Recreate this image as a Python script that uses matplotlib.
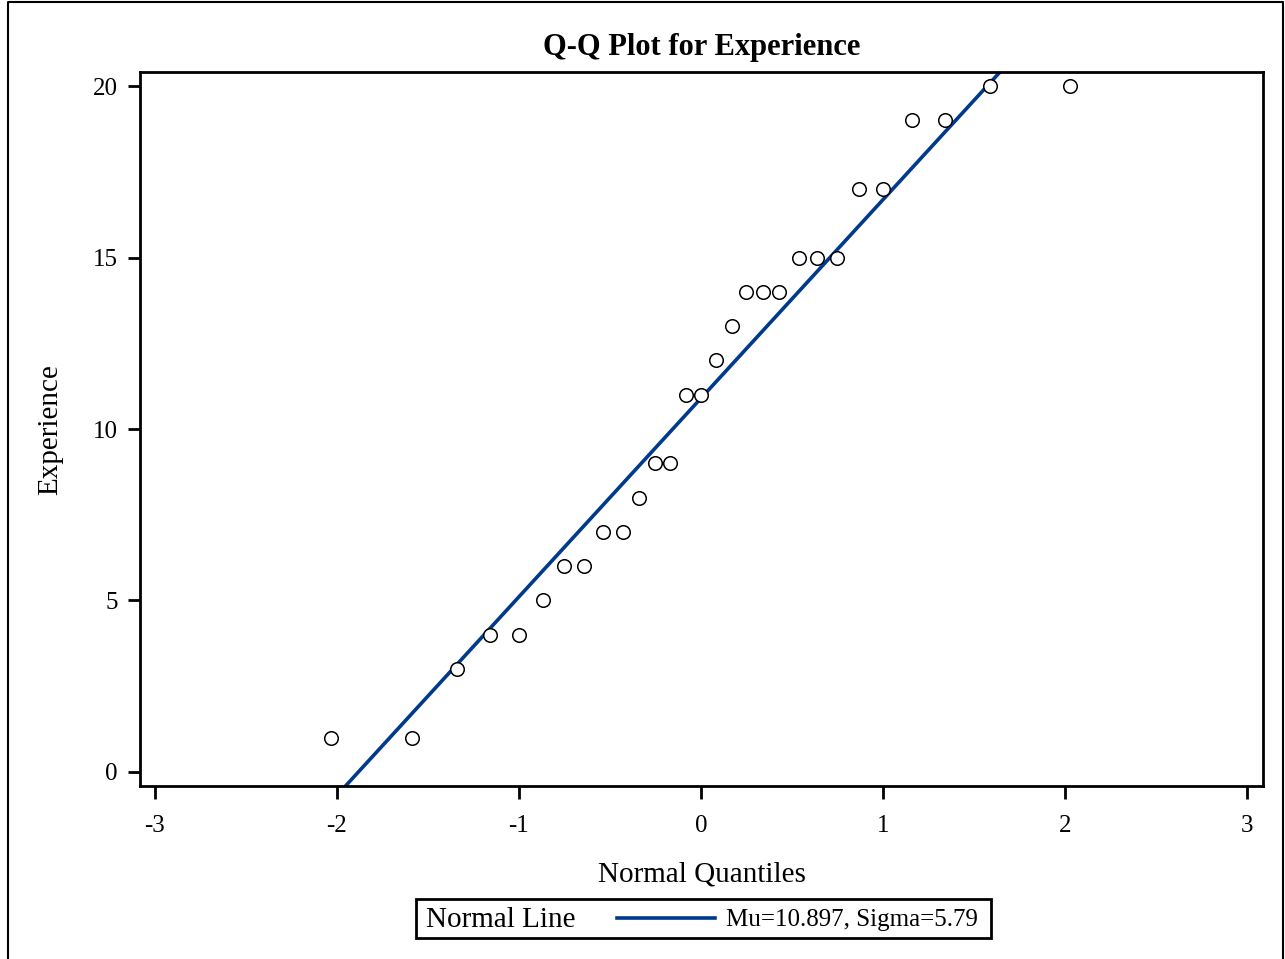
import numpy as np
import matplotlib
matplotlib.use("Agg")
from matplotlib import pyplot as plt
from matplotlib.lines import Line2D
from matplotlib.patches import Rectangle

# data
quantiles = [-2.03, -1.59, -1.34, -1.16, -1.00, -0.87, -0.75, -0.64, -0.54, -0.43,
             -0.34, -0.25, -0.17, -0.08, 0.00, 0.08, 0.17, 0.25, 0.34, 0.43,
             0.54, 0.64, 0.75, 0.87, 1.00, 1.16, 1.34, 1.59, 2.03]
experience = [1, 1, 3, 4, 4, 5, 6, 6, 7, 7,
              8, 9, 9, 11, 11, 12, 13, 14, 14, 14,
              15, 15, 15, 17, 17, 19, 19, 20, 20]
mu = 10.897
sigma = 5.79
x_ticks = [-3, -2, -1, 0, 1, 2, 3]
y_ticks = [0, 5, 10, 15, 20]

line_color = '#003A8C'
plt.rcParams['font.family'] = ['Liberation Serif', 'DejaVu Serif']

fig = plt.figure(figsize=(12.85, 9.59), dpi=100)
W, H = 1285, 959
ax = fig.add_axes([140 / W, 1 - 786 / H, (1263 - 140) / W, (786 - 72) / H])

xl = np.array([-3.1, 3.1])
ax.plot(xl, mu + sigma * xl, color=line_color, lw=2.6, zorder=2)
ax.scatter(quantiles, experience, s=95, facecolors='white', edgecolors='black',
           linewidths=1.1, zorder=3)

ax.set_xlim(-3.082, 3.088)
ax.set_ylim(-0.41, 20.41)
ax.set_xticks(x_ticks)
ax.set_xticklabels([str(t) for t in x_ticks])
ax.set_yticks(y_ticks)
ax.set_yticklabels([str(t) for t in y_ticks])
ax.tick_params(direction='out', length=9, width=2, labelsize=18, pad=7)
ax.tick_params(axis='x', pad=12)
for s in ax.spines.values():
    s.set_linewidth(2)

fig.text(702 / W, 1 - 874 / H, 'Normal Quantiles', fontsize=21,
         ha='center', va='center')
fig.text(50 / W, 1 - 430 / H, 'Experience', rotation=90, fontsize=21,
         ha='center', va='center')
fig.text(702 / W, 1 - 47 / H, 'Q-Q Plot for Experience', fontsize=22,
         fontweight='bold', ha='center', va='center')

# legend box
fig.patches.append(Rectangle((416 / W, 1 - 938 / H), (991 - 416) / W, (938 - 899) / H,
                             transform=fig.transFigure, fill=False, lw=2,
                             edgecolor='black'))
fig.text(426 / W, 1 - 920 / H, 'Normal Line', fontsize=21, ha='left', va='center')
fig.lines.append(Line2D([617 / W, 715 / W], [1 - 918 / H, 1 - 918 / H],
                        transform=fig.transFigure, color=line_color, lw=2.6))
fig.text(726 / W, 1 - 920 / H, 'Mu=10.897, Sigma=5.79', fontsize=18,
         ha='left', va='center')

# outer frame
fig.lines.append(Line2D([8 / W, 8 / W, 1283 / W, 1283 / W],
                        [0, 1 - 2 / H, 1 - 2 / H, 0],
                        transform=fig.transFigure, color='black', lw=1.5))

fig.savefig('out.png', dpi=100)
